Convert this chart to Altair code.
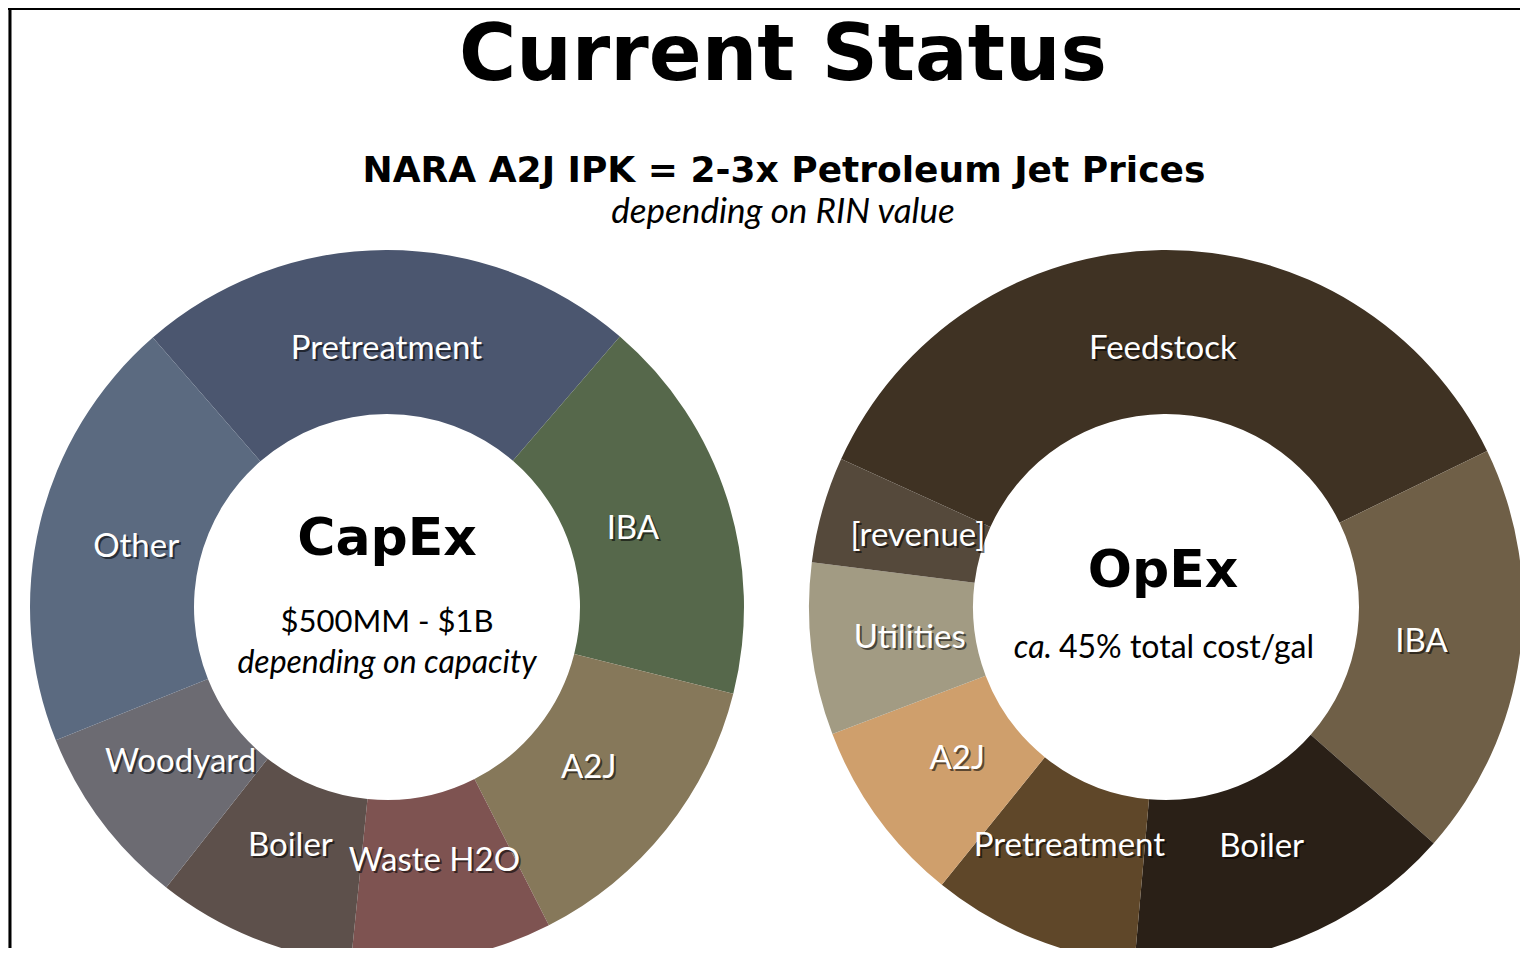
import math
import altair as alt
import pandas as pd

# ---------------- data ----------------
capex_labels = ["Pretreatment", "IBA", "A2J", "Waste H2O", "Boiler", "Woodyard", "Other"]
capex_values = [22.7, 17.6, 13.6, 9.1, 9.0, 8.3, 19.7]
capex_colors = ["#4b566f", "#56684b", "#86785a", "#7e5351", "#5d504b", "#6c6b72", "#5b6a80"]

opex_labels = ["Feedstock", "IBA", "Boiler", "Pretreatment", "A2J", "Utilities", "[revenue]"]
opex_values = [36.0, 18.7, 14.9, 9.4, 8.4, 7.8, 4.8]
opex_colors = ["#3f3223", "#6f5f47", "#2a2017", "#5f4729", "#cf9f6c", "#a29b83", "#55493b"]

title_text = "Current Status"
subtitle_text = "NARA A2J IPK = 2-3x Petroleum Jet Prices"
subnote_text = "depending on RIN value"

# ---------------- layout ----------------
W, H = 1512, 940
R_IN, R_OUT, R_LBL = 193, 357, 258
CAP_CX, CAP_CY = 379, 599
OPX_CX, OPX_CY = 1158, 599

BOLD = "DejaVu Sans"
REG = "Lato"
LBL_SIZE = 33


def donut(labels, values, colors, cx, cy, start_deg):
    df = pd.DataFrame({"segment": labels, "value": values, "idx": list(range(len(labels)))})
    start = math.radians(start_deg)
    theta = alt.Theta("value:Q", stack=True,
                      scale=alt.Scale(range=[start, start + 2 * math.pi]))
    color = alt.Color("segment:N", scale=alt.Scale(domain=labels, range=colors), legend=None)
    order = alt.Order("idx:Q")
    base = alt.Chart(df)
    arcs = base.mark_arc(innerRadius=R_IN, outerRadius=R_OUT).encode(
        theta=theta, color=color, order=order,
        x=alt.value(cx), y=alt.value(cy))
    shadow = base.mark_text(radius=R_LBL, font=REG, fontSize=LBL_SIZE, color="#000000",
                            opacity=0.55, dx=2, dy=2, align="center", baseline="middle").encode(
        theta=theta, order=order, text="segment:N",
        x=alt.value(cx), y=alt.value(cy))
    text = base.mark_text(radius=R_LBL, font=REG, fontSize=LBL_SIZE, color="#ffffff",
                          align="center", baseline="middle").encode(
        theta=theta, order=order, text="segment:N",
        x=alt.value(cx), y=alt.value(cy))
    return alt.layer(arcs, shadow, text)


def note(txt, x, y, size, font=REG, weight="normal", style="normal", align="center"):
    return alt.Chart(pd.DataFrame({"t": [txt]})).mark_text(
        font=font, fontSize=size, fontWeight=weight, fontStyle=style,
        align=align, baseline="alphabetic", color="#000000").encode(
        text="t:N", x=alt.value(x), y=alt.value(y))


border_left = alt.Chart(pd.DataFrame({"a": [0]})).mark_rule(
    color="#000000", strokeWidth=3).encode(x=alt.value(2), y=alt.value(0), y2=alt.value(H))
border_top = alt.Chart(pd.DataFrame({"a": [0]})).mark_rule(
    color="#000000", strokeWidth=4).encode(x=alt.value(0), x2=alt.value(W), y=alt.value(0))

capex = donut(capex_labels, capex_values, capex_colors, CAP_CX, CAP_CY, -41)
opex = donut(opex_labels, opex_values, opex_colors, OPX_CX, OPX_CY, -65.5)

texts = [
    note(title_text, 775, 72, 78, font=BOLD, weight="bold"),
    note(subtitle_text, 776, 174, 36, font=BOLD, weight="bold"),
    note(subnote_text, 775, 215, 35, style="italic"),
    note("CapEx", 379, 547, 52, font=BOLD, weight="bold"),
    note("$500MM - $1B", 379, 624, 31),
    note("depending on capacity", 379, 665, 32, style="italic"),
    note("OpEx", 1155, 579, 52, font=BOLD, weight="bold"),
    note("ca.", 1044, 650, 32, style="italic", align="right"),
    note("45% total cost/gal", 1051, 650, 32, align="left"),
]

chart = alt.layer(capex, opex, border_left, border_top, *texts).resolve_scale(
    theta="independent", color="independent"
).properties(
    width=W, height=H,
    autosize=alt.AutoSizeParams(type="none"),
    padding=0,
).configure_view(stroke=None).configure(background="#ffffff")

chart.save("out.html", embed_options={"renderer": "svg", "actions": False})
